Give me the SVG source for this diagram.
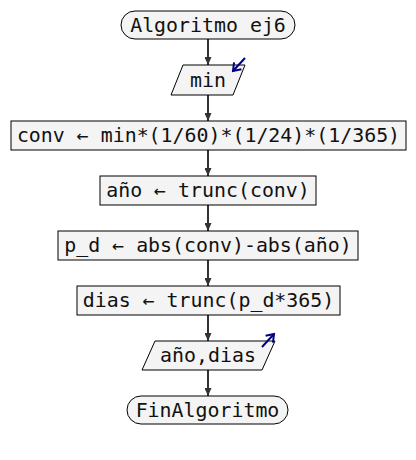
<svg xmlns="http://www.w3.org/2000/svg" width="416" height="460" viewBox="0 0 416 460">
<style>
.shape{fill:#f4f4f4;stroke:#000;stroke-width:1}
.t{font-family:"DejaVu Sans Mono","Liberation Mono",monospace;font-size:19.9px;fill:#111;text-anchor:middle}
.c{stroke:#333;stroke-width:2;fill:none}
.io{stroke:#000080;stroke-width:2;fill:none}
</style>
<defs>
<marker id="ah" markerWidth="8" markerHeight="7" refX="8" refY="3.5" orient="auto" markerUnits="userSpaceOnUse">
<path d="M0,0 L8,3.5 L0,7 Z" fill="#333"/>
</marker>
<marker id="bh" markerWidth="10" markerHeight="12" refX="8" refY="6" orient="auto" markerUnits="userSpaceOnUse">
<path d="M1,1 L8,6 L1,11" fill="none" stroke="#000080" stroke-width="2"/>
</marker>
</defs>
<rect width="416" height="460" fill="#fff"/>
<g id="connectors">
<line class="c" x1="208" y1="39" x2="208" y2="65" marker-end="url(#ah)"/>
<line class="c" x1="208" y1="95" x2="208" y2="121" marker-end="url(#ah)"/>
<line class="c" x1="208" y1="150" x2="208" y2="176" marker-end="url(#ah)"/>
<line class="c" x1="208" y1="205" x2="208" y2="231" marker-end="url(#ah)"/>
<line class="c" x1="208" y1="260" x2="208" y2="286" marker-end="url(#ah)"/>
<line class="c" x1="208" y1="315" x2="208" y2="341" marker-end="url(#ah)"/>
<line class="c" x1="208" y1="370" x2="208" y2="396" marker-end="url(#ah)"/>
</g>
<g id="start">
<rect class="shape" x="121" y="11" width="174" height="28" rx="14"/>
<text class="t" x="208" y="32">Algoritmo ej6</text>
</g>
<g id="read-min">
<polygon class="shape" points="183,65 245,65 233,95 171,95"/>
<text class="t" x="208" y="87">min</text>
<line class="io" x1="245" y1="58" x2="233" y2="71" marker-end="url(#bh)"/>
</g>
<g id="conv">
<rect class="shape" x="11" y="121" width="395" height="29"/>
<text class="t" x="208.5" y="142">conv ← min*(1/60)*(1/24)*(1/365)</text>
</g>
<g id="anio">
<rect class="shape" x="100" y="176" width="216" height="29"/>
<text class="t" x="208" y="197">año ← trunc(conv)</text>
</g>
<g id="pd">
<rect class="shape" x="58" y="231" width="300" height="29"/>
<text class="t" x="208" y="252">p_d ← abs(conv)-abs(año)</text>
</g>
<g id="dias">
<rect class="shape" x="77" y="286" width="263" height="29"/>
<text class="t" x="208.5" y="307">dias ← trunc(p_d*365)</text>
</g>
<g id="write">
<polygon class="shape" points="155,341 275,341 262,370 142,370"/>
<text class="t" x="208" y="362">año,dias</text>
<line class="io" x1="262" y1="347" x2="274" y2="334" marker-end="url(#bh)"/>
</g>
<g id="end">
<rect class="shape" x="127" y="396" width="161" height="28" rx="14"/>
<text class="t" x="207.5" y="417">FinAlgoritmo</text>
</g>
</svg>
